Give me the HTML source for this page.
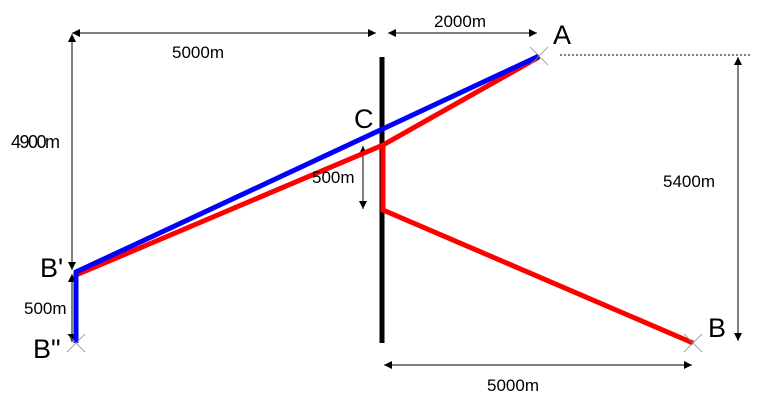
<!DOCTYPE html>
<html><head><style>body{margin:0;background:#fff}svg{display:block}</style></head><body>
<svg width="763" height="414" viewBox="0 0 763 414" xmlns="http://www.w3.org/2000/svg" font-family="Liberation Sans, sans-serif">
<defs>
<marker id="ar" viewBox="0 0 10 10" refX="10" refY="5" markerWidth="10" markerHeight="8" orient="auto-start-reverse" markerUnits="userSpaceOnUse"><path d="M0,0L10,5L0,10z" fill="#000"/></marker>
</defs>
<g stroke="#000" stroke-width="1" fill="none">
<line x1="72" y1="33" x2="376" y2="33" marker-start="url(#ar)" marker-end="url(#ar)"/>
<line x1="388" y1="33" x2="537" y2="33" marker-start="url(#ar)" marker-end="url(#ar)"/>
<line x1="72" y1="34" x2="72" y2="270" marker-start="url(#ar)" marker-end="url(#ar)"/>
<line x1="72" y1="274" x2="72" y2="342" marker-start="url(#ar)" marker-end="url(#ar)"/>
<line x1="363" y1="146" x2="363" y2="209" marker-start="url(#ar)" marker-end="url(#ar)"/>
<line x1="738" y1="57" x2="738" y2="341" marker-start="url(#ar)" marker-end="url(#ar)"/>
<line x1="384" y1="365" x2="692" y2="365" marker-start="url(#ar)" marker-end="url(#ar)"/>
<line x1="560" y1="55" x2="752" y2="55" stroke-dasharray="2,2"/>
</g>
<line x1="382" y1="57" x2="382" y2="343" stroke="#000" stroke-width="5"/>
<polyline points="76,275 383,145 539,57" fill="none" stroke="#f00" stroke-width="5"/>
<polyline points="383,145 383,210 693,343" fill="none" stroke="#f00" stroke-width="5"/>
<polyline points="539,56 76,272 76,343" fill="none" stroke="#00f" stroke-width="5"/>
<g stroke="#888" stroke-width="0.8">
<line x1="530" y1="47" x2="548" y2="65"/><line x1="548" y1="47" x2="530" y2="65"/>
<line x1="684" y1="334" x2="702" y2="352"/><line x1="702" y1="334" x2="684" y2="352"/>
<line x1="67" y1="334" x2="85" y2="352"/><line x1="85" y1="334" x2="67" y2="352"/>
</g>
<g font-size="17" fill="#000">
<text x="172" y="58">5000m</text>
<text x="434" y="27">2000m</text>
<text x="11" y="148" letter-spacing="-1.5" font-size="18">4900m</text>
<text x="312" y="183">500m</text>
<text x="24" y="314">500m</text>
<text x="663" y="187">5400m</text>
<text x="487" y="391">5000m</text>
</g>
<g font-size="27" fill="#000">
<text x="553" y="44">A</text>
<text x="354" y="128">C</text>
<text x="40" y="277">B'</text>
<text x="33" y="358">B"</text>
<text x="708" y="337">B</text>
</g>
</svg>
</body></html>
